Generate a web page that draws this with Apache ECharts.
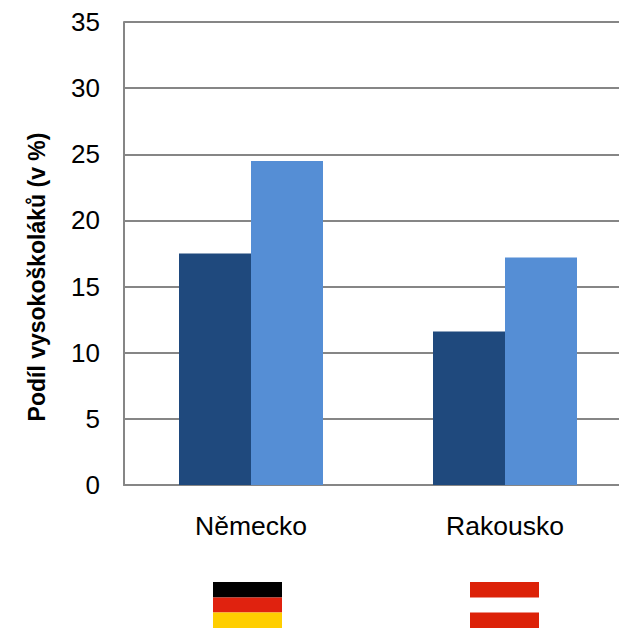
<!DOCTYPE html>
<html><head><meta charset="utf-8">
<style>html,body{margin:0;padding:0;background:#fff}#c{width:619px;height:629px}</style>
<script src="https://cdn.jsdelivr.net/npm/echarts@6/dist/echarts.min.js"></script>
</head><body><div id="c"></div>
<script>
const categories = ['Německo', 'Rakousko'];
const seriesDark = [17.5, 11.6];
const seriesLight = [24.5, 17.2];
const yTicks = {min: 0, max: 35, interval: 5};
const yTitle = 'Podíl vysokoškoláků (v %)';
const font = '"Liberation Sans", Arial, sans-serif';
const chart = echarts.init(document.getElementById('c'), null, {renderer: 'svg'});
function stripe(x, y, w, h, fill) {
  return {type: 'rect', shape: {x, y, width: w, height: h}, style: {fill}, silent: true};
}
chart.setOption({
  animation: false,
  backgroundColor: '#fff',
  grid: {left: 124, top: 22, width: 508, height: 463, containLabel: false, outerBoundsMode: 'none'},
  xAxis: {
    type: 'category', data: categories,
    axisLine: {lineStyle: {color: '#868686', width: 2}},
    axisTick: {show: false},
    axisLabel: {color: '#000', fontFamily: font, fontSize: 26.5, margin: 27}
  },
  yAxis: {
    type: 'value', min: yTicks.min, max: yTicks.max, interval: yTicks.interval,
    name: yTitle, nameLocation: 'middle', nameGap: 76,
    nameTextStyle: {color: '#000', fontFamily: font, fontSize: 23, fontWeight: 'bold', padding: [0, 47, 0, 0]},
    axisLine: {show: true, lineStyle: {color: '#868686', width: 2}},
    axisTick: {show: false},
    axisLabel: {color: '#000', fontFamily: font, fontSize: 26, margin: 24},
    splitLine: {lineStyle: {color: '#868686', width: 2}}
  },
  series: [
    {type: 'bar', data: seriesDark, barWidth: 72, barGap: 0, itemStyle: {color: '#1F497D'}},
    {type: 'bar', data: seriesLight, barWidth: 72, barGap: 0, itemStyle: {color: '#558ED5'}}
  ],
  graphic: [
    stripe(213, 582, 69, 15.5, '#000000'),
    stripe(213, 597.5, 69, 15, '#E0220F'),
    stripe(213, 612.5, 69, 15.5, '#FFCE00'),
    stripe(470, 582, 69, 15.5, '#DC2208'),
    stripe(470, 612.5, 69, 15.5, '#DC2208')
  ]
});
</script></body></html>
